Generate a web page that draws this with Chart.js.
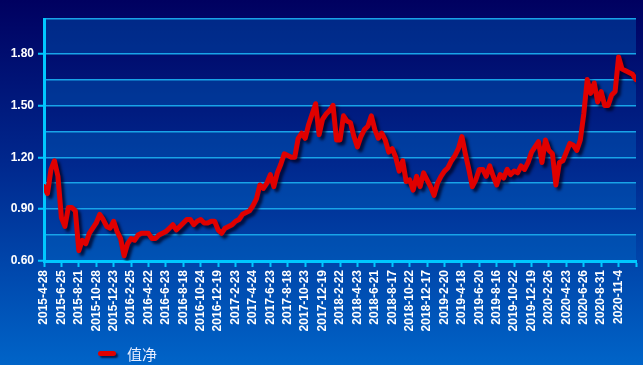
<!DOCTYPE html>
<html lang="zh">
<head>
<meta charset="UTF-8">
<title>值净</title>
<script src="https://cdn.jsdelivr.net/npm/chart.js@4.4.0/dist/chart.umd.min.js"></script>
<style>
    html, body { margin: 0; padding: 0; }
    body {
        width: 643px; height: 365px; overflow: hidden;
        background: linear-gradient(to bottom, #000060 0%, #00288e 45%, #0064c8 100%);
    }
    #wrap { position: relative; width: 643px; height: 365px; }
    #legend {
        position: absolute; left: 98px; top: 343px;
        display: flex; align-items: center;
        color: #e8eeff; font: 15px "Noto Sans CJK SC", sans-serif;
    }
    #legend .mark {
        display: inline-block; width: 18px; height: 5px; border-radius: 3px;
        background: #e00000; box-shadow: 2px 2px 2px rgba(0, 0, 40, 0.7);
        margin-right: 11px;
    }
</style>
</head>
<body>
<div id="wrap">
    <canvas id="navChart" width="643" height="365"></canvas>
    <div id="legend"><span class="mark"></span><span>值净</span></div>
</div>

<script>
    // x축 눈금 라벨 (거래일 기준, 일정 간격)
    const tickLabels = [
        '2015-4-28', '2015-6-25', '2015-8-21', '2015-10-28', '2015-12-23',
        '2016-2-25', '2016-4-22', '2016-6-23', '2016-8-18', '2016-10-24', '2016-12-19',
        '2017-2-23', '2017-4-24', '2017-6-23', '2017-8-18', '2017-10-23', '2017-12-19',
        '2018-2-22', '2018-4-23', '2018-6-21', '2018-8-17', '2018-10-22', '2018-12-17',
        '2019-2-20', '2019-4-18', '2019-6-20', '2019-8-16', '2019-10-22', '2019-12-19',
        '2020-2-26', '2020-4-23', '2020-6-26', '2020-8-31', '2020-11-4'
    ];

    // 净值, 눈금 사이에 5개씩
    const pointsPerTick = 5;
    const navValues = [
        1.03, 0.99, 1.13, 1.18, 1.09, 0.85, 0.80, 0.91, 0.91, 0.89,
        0.66, 0.72, 0.70, 0.76, 0.79, 0.82, 0.87, 0.84, 0.80, 0.79,
        0.83, 0.77, 0.73, 0.63, 0.70, 0.73, 0.72, 0.75, 0.76, 0.76,
        0.76, 0.73, 0.73, 0.75, 0.76, 0.77, 0.79, 0.81, 0.78, 0.80,
        0.82, 0.84, 0.84, 0.81, 0.83, 0.84, 0.82, 0.82, 0.83, 0.83,
        0.78, 0.76, 0.79, 0.80, 0.81, 0.83, 0.84, 0.87, 0.88, 0.89,
        0.92, 0.96, 1.04, 1.02, 1.05, 1.10, 1.03, 1.11, 1.16, 1.22,
        1.21, 1.20, 1.20, 1.31, 1.34, 1.31, 1.39, 1.45, 1.51, 1.33,
        1.42, 1.45, 1.47, 1.50, 1.30, 1.30, 1.44, 1.41, 1.40, 1.32,
        1.26, 1.32, 1.36, 1.38, 1.44, 1.36, 1.31, 1.34, 1.30, 1.23,
        1.25, 1.20, 1.12, 1.18, 1.06, 1.07, 1.01, 1.09, 1.03, 1.11,
        1.07, 1.03, 0.98, 1.05, 1.09, 1.12, 1.14, 1.18, 1.21, 1.25,
        1.32, 1.22, 1.13, 1.03, 1.07, 1.13, 1.13, 1.09, 1.15, 1.09,
        1.04, 1.10, 1.08, 1.13, 1.10, 1.12, 1.11, 1.15, 1.13, 1.17,
        1.23, 1.26, 1.29, 1.17, 1.30, 1.24, 1.22, 1.04, 1.17, 1.18,
        1.23, 1.28, 1.27, 1.24, 1.30, 1.45, 1.65, 1.57, 1.63, 1.52,
        1.58, 1.50, 1.50, 1.56, 1.58, 1.78, 1.71, 1.70, 1.69, 1.68, 1.65
    ];

    // y축 격자선 / 라벨
    const yGridValues = [0.6, 0.75, 0.9, 1.05, 1.2, 1.35, 1.5, 1.65, 1.8, 2.0];
    const yLabelValues = [0.6, 0.9, 1.2, 1.5, 1.8];

    const isYLabel = v => yLabelValues.some(l => Math.abs(l - v) < 1e-6);
    const axisCyan = '#00c8ff';

    // 줄무늬 배경
    const bandPlugin = {
        id: 'bands',
        beforeDraw(chart) {
            const {ctx, chartArea} = chart;
            const y = chart.scales.y;
            ctx.save();
            for (let i = 0; i < yGridValues.length - 1; i++) {
                if (i % 2 !== 0) continue;
                const top = y.getPixelForValue(yGridValues[i + 1]);
                const bottom = y.getPixelForValue(yGridValues[i]);
                ctx.fillStyle = 'rgba(0, 110, 200, 0.35)';
                ctx.fillRect(chartArea.left, top, chartArea.right - chartArea.left, bottom - top);
            }
            ctx.restore();
        }
    };

    // 선 그림자
    const shadowPlugin = {
        id: 'lineShadow',
        beforeDatasetDraw(chart) {
            const ctx = chart.ctx;
            ctx.save();
            ctx.shadowColor = 'rgba(0, 0, 30, 0.75)';
            ctx.shadowOffsetX = 3;
            ctx.shadowOffsetY = 3;
            ctx.shadowBlur = 3;
        },
        afterDatasetDraw(chart) {
            chart.ctx.restore();
        }
    };

    const navChart = new Chart(document.getElementById('navChart'), {
        type: 'line',
        data: {
            datasets: [{
                label: '值净',
                data: navValues.map((v, i) => ({x: i / pointsPerTick, y: v})),
                borderColor: '#e00000',
                borderWidth: 5,
                pointRadius: 0,
                tension: 0,
                borderJoinStyle: 'round',
                borderCapStyle: 'round'
            }]
        },
        options: {
            responsive: false,
            animation: false,
            devicePixelRatio: 1,
            layout: {padding: {top: 19, right: 7, left: 0, bottom: 0}},
            plugins: {
                legend: {display: false},
                tooltip: {enabled: false}
            },
            scales: {
                x: {
                    type: 'linear',
                    min: 0,
                    max: tickLabels.length,
                    afterBuildTicks: scale => {
                        scale.ticks = [];
                        for (let i = 0; i <= tickLabels.length; i++) scale.ticks.push({value: i});
                    },
                    afterFit: scale => {
                        scale.height = 104;
                        scale.paddingLeft = 0;
                        scale.paddingRight = 0;
                    },
                    ticks: {
                        autoSkip: false,
                        maxRotation: 90,
                        minRotation: 90,
                        padding: 3,
                        color: '#ffffff',
                        font: {family: 'Arial, "Liberation Sans", sans-serif', size: 12, weight: 'bold'},
                        callback: v => tickLabels[v] ?? ''
                    },
                    grid: {
                        drawOnChartArea: false,
                        tickLength: 6,
                        tickWidth: 2,
                        tickColor: axisCyan
                    },
                    border: {color: axisCyan, width: 3}
                },
                y: {
                    min: 0.6,
                    max: 2.0,
                    afterBuildTicks: scale => {
                        scale.ticks = yGridValues.map(v => ({value: v}));
                    },
                    afterFit: scale => {
                        scale.width = 44;
                        scale.paddingTop = 0;
                        scale.paddingBottom = 0;
                    },
                    ticks: {
                        padding: 4,
                        color: '#ffffff',
                        font: {family: 'Arial, "Liberation Sans", sans-serif', size: 12, weight: 'bold'},
                        callback: v => isYLabel(v) ? v.toFixed(2) : ''
                    },
                    grid: {
                        color: '#18a4e8',
                        lineWidth: 1.5,
                        tickLength: 6,
                        tickWidth: 2,
                        tickColor: c => (c.tick && isYLabel(c.tick.value)) ? axisCyan : 'rgba(0,0,0,0)'
                    },
                    border: {color: axisCyan, width: 3}
                }
            }
        },
        plugins: [bandPlugin, shadowPlugin]
    });
</script>
</body>
</html>
